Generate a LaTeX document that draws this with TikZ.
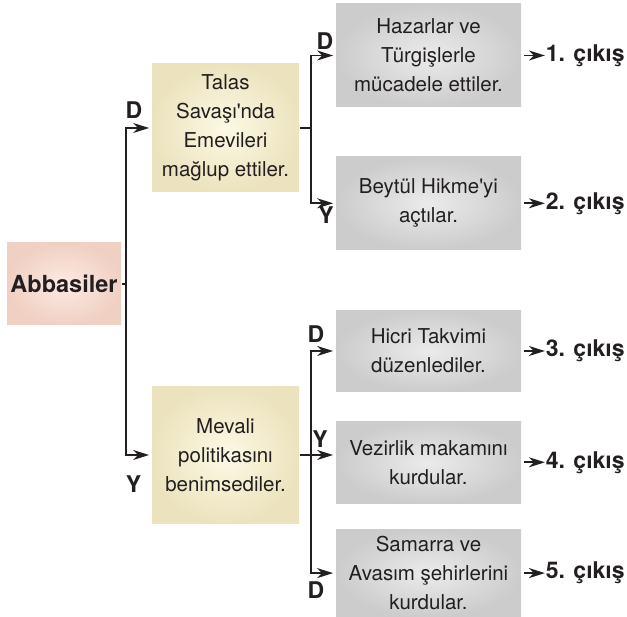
\documentclass[tikz,border=0pt]{standalone}
\usepackage{fontspec}
\setmainfont{TeX Gyre Heros}[Ligatures=TeXOff]
\usetikzlibrary{positioning,arrows.meta}
\usepackage{xcolor}
\definecolor{ink}{HTML}{231F20}
\definecolor{pinkin}{HTML}{FDEAE2}
\definecolor{pinkout}{HTML}{F0D0C3}
\definecolor{creamin}{HTML}{FDF9E4}
\definecolor{creamout}{HTML}{ECE3BE}
\definecolor{greyin}{HTML}{EBEBEB}
\definecolor{greyout}{HTML}{CCCCCC}

\tikzset{
	box/.style={rectangle, align=center, inner sep=0pt, text=ink,
		font=\fontsize{20.5}{29}\selectfont},
	startbox/.style={box, inner color=pinkin, outer color=pinkout,
		font=\fontsize{23.5}{26}\selectfont\bfseries},
	yellowbox/.style={box, inner color=creamin, outer color=creamout,
		minimum width=147pt},
	greybox/.style={box, inner color=greyin, outer color=greyout,
		minimum width=185pt},
	lbl/.style={inner sep=0pt, text=ink, font=\fontsize{23}{26}\selectfont\bfseries},
	arr/.style={-{Stealth[length=16pt,width=10pt,inset=5pt]}, shorten >=2pt},
}

\begin{document}
\begin{tikzpicture}[x=1pt, y=-1pt, line width=1.8pt, draw=ink]
	\useasboundingbox (0,0) rectangle (627,617);

	\node[startbox, minimum width=114pt, minimum height=82pt] (abb) at (64,284) {Abbasiler};
	\node[yellowbox, minimum height=128pt] (talas) at (225.5,128) {Talas\\Savaşı'nda\\Emevileri\\mağlup ettiler.};
	\node[yellowbox, minimum height=137pt] (mevali) at (225.5,455) {Mevali\\politikasını\\benimsediler.};

	\node[greybox, minimum height=103pt] (haz) at (428.5,55.5) {Hazarlar ve\\Türgişlerle\\mücadele ettiler.};
	\node[greybox, minimum height=93pt, below=48pt of haz] (bey) {Beytül Hikme'yi\\açtılar.};
	\node[greybox, minimum height=81pt] (hic) at (428.5,351) {Hicri Takvimi\\düzenlediler.};
	\node[greybox, minimum height=82pt, below=28pt of hic] (vez) {Vezirlik makamını\\kurdular.};
	\node[greybox, minimum height=88pt, below=24pt of vez] (sam) {Samarra ve\\Avasım şehirlerini\\kurdular.};

	\node[lbl, right=23pt of haz] (o1) {1. çıkış};
	\node[lbl, right=23pt of bey] (o2) {2. çıkış};
	\node[lbl, right=23pt of hic] (o3) {3. çıkış};
	\node[lbl, right=23pt of vez] (o4) {4. çıkış};
	\node[lbl, right=23pt of sam] (o5) {5. çıkış};

	\coordinate (s0) at ([xshift=4pt]abb.east);
	\coordinate (s1) at ([xshift=11pt]talas.east);
	\coordinate (s2) at ([xshift=11pt]mevali.east);

	\draw (abb.east) -- (s0);
	\draw[arr] (s0) |- (talas.west);
	\draw[arr] (s0) |- (mevali.west);

	\draw (talas.east) -- (s1);
	\draw[arr] (s1) |- (haz.west);
	\draw[arr] (s1) |- (bey.west);

	\draw (mevali.east) -- (s2);
	\draw[arr] (s2) |- (hic.west);
	\draw[arr] (s2) -- (s2 -| vez.west);
	\draw[arr] (s2) |- (sam.west);

	\foreach \b/\o in {haz/o1, bey/o2, hic/o3, vez/o4, sam/o5}
		\draw[arr, shorten <=2pt, shorten >=0pt] (\b.east) -- (\o.west);

	\node[lbl] (dtalas) at (134,110) {D};
	\node[lbl] (ymevali) at (133.5,484) {Y};
	\node[lbl] (dhaz) at (325,41) {D};
	\node[lbl] (ybey) at (326,215) {Y};
	\node[lbl] (dhic) at (316,334) {D};
	\node[lbl] (yvez) at (320,439) {Y};
	\node[lbl] (dsam) at (316,590) {D};
\end{tikzpicture}
\end{document}
